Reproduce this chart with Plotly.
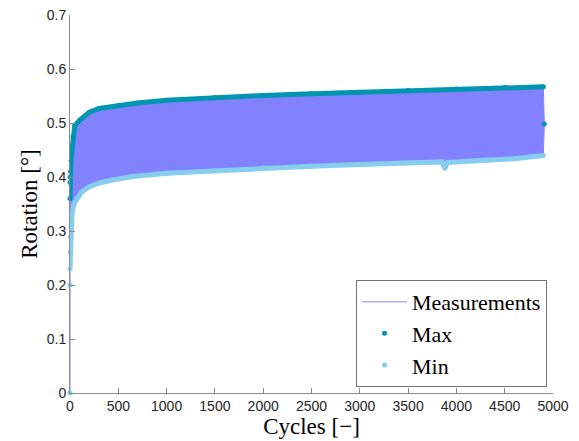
import plotly.graph_objects as go

# ---- data ----
max_cycles = [0, 0, 0, 5, 10, 20, 30, 50, 100, 200, 300, 500, 700, 1000, 1500, 2000,
              2500, 3000, 3500, 4000, 4500, 4900, 4910]
max_values = [0.36, 0.39, 0.40, 0.41, 0.43, 0.45, 0.475, 0.495, 0.505, 0.52, 0.527, 0.533,
              0.537, 0.542, 0.547, 0.551, 0.554, 0.557, 0.560, 0.563, 0.566, 0.567, 0.498]

min_cycles = [0, 0, 0, 3, 6, 10, 20, 40, 70, 120, 200, 300, 450, 650, 1000, 1500, 2000,
              2500, 3000, 3500, 3850, 3880, 3910, 4300, 4600, 4900]
min_values = [0.0, 0.2, 0.23, 0.26, 0.29, 0.31, 0.33, 0.35, 0.36, 0.372, 0.382, 0.389,
              0.395, 0.401, 0.407, 0.412, 0.417, 0.420, 0.423, 0.426, 0.428, 0.416, 0.427,
              0.431, 0.434, 0.44]

x_ticks = [0, 500, 1000, 1500, 2000, 2500, 3000, 3500, 4000, 4500, 5000]
y_ticks = [0, 0.1, 0.2, 0.3, 0.4, 0.5, 0.6, 0.7]

MEAS = "#8282ff"
MAXC = "#0096b0"
MINC = "#87cdee"

fig = go.Figure()

# Measurements band (envelope between max and min)
fig.add_trace(go.Scatter(
    x=max_cycles + min_cycles[::-1],
    y=max_values + min_values[::-1],
    mode="lines", fill="toself", fillcolor=MEAS,
    line=dict(color=MEAS, width=1), showlegend=False, hoverinfo="skip"))
fig.add_trace(go.Scatter(x=[None], y=[None], mode="lines", name="Measurements",
                         line=dict(color="#b0b0ff", width=1.5)))

# Max envelope
fig.add_trace(go.Scatter(x=max_cycles[:-1], y=max_values[:-1], mode="lines",
                         line=dict(color=MAXC, width=5), showlegend=False, hoverinfo="skip"))
fig.add_trace(go.Scatter(x=max_cycles, y=max_values, mode="markers", name="Max",
                         marker=dict(color=MAXC, size=5), cliponaxis=False))

# Min envelope
fig.add_trace(go.Scatter(x=min_cycles[2:], y=min_values[2:], mode="lines",
                         line=dict(color=MINC, width=5), showlegend=False, hoverinfo="skip"))
fig.add_trace(go.Scatter(x=min_cycles, y=min_values, mode="markers", name="Min",
                         marker=dict(color=MINC, size=5), cliponaxis=False))

axis_common = dict(showgrid=False, zeroline=False, showline=True, linecolor="#8c8c8c",
                   linewidth=1, ticks="inside", ticklen=5, tickcolor="#8c8c8c",
                   tickfont=dict(family="Liberation Sans, Arial", size=14, color="#262626"),
                   mirror=False, automargin=False, ticklabeloverflow="allow")

# the page adds an 8px body margin, so the figure is 8px smaller than the window
fig.update_layout(
    width=571, height=433,
    margin=dict(l=62, r=26, t=7, b=48),
    paper_bgcolor="white", plot_bgcolor="white",
    xaxis=dict(range=[0, 5000], tickvals=x_ticks, ticktext=[str(v) for v in x_ticks],
               title=dict(text="Cycles [\u2212]", standoff=2,
                          font=dict(family="Liberation Serif, Times New Roman", size=23, color="black")),
               **axis_common),
    yaxis=dict(range=[0, 0.7], tickvals=y_ticks, ticktext=["0"] + [f"{v:.1f}" for v in y_ticks[1:]],
               title=dict(text="Rotation [\u00b0]", standoff=2,
                          font=dict(family="Liberation Serif, Times New Roman", size=23, color="black")),
               **axis_common),
    legend=dict(x=0.9876, xanchor="right", y=0.016, yanchor="bottom",
                bgcolor="white", bordercolor="#707070", borderwidth=1,
                font=dict(family="Liberation Serif, Times New Roman", size=22, color="black"),
                tracegroupgap=0, itemwidth=45),
    showlegend=True,
)

fig.write_html("out.html")
